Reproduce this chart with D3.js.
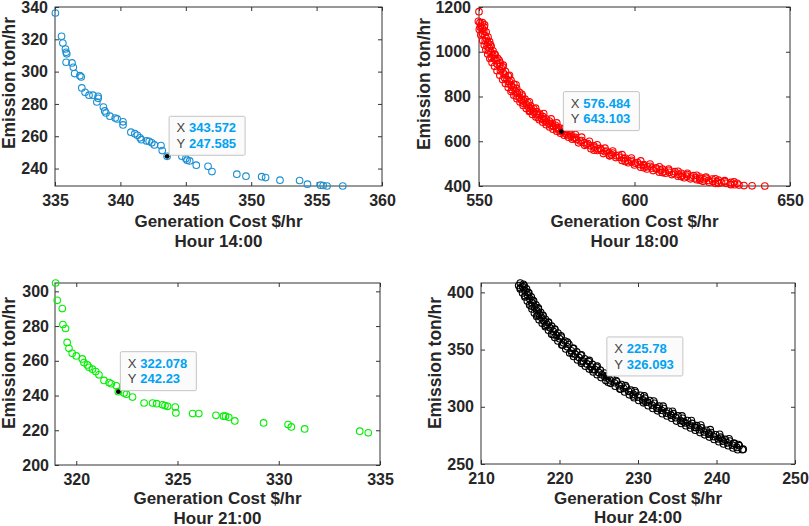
<!DOCTYPE html>
<html><head><meta charset="utf-8">
<script src="https://cdn.jsdelivr.net/npm/d3@7"></script>
<style>body{margin:0;background:#fff} svg{display:block} text{font-family:"Liberation Sans",Arial,sans-serif}</style>
</head><body><svg id="c" width="809" height="526"></svg>
<script>
// ---- Hour 14:00 ----
const cost14=[335.03,335.5,335.6,335.8,335.85,335.9,335.85,336.3,336.4,336.5,336.9,337.0,337.05,337.3,337.6,337.9,338.3,338.3,338.2,338.7,338.8,338.9,339.2,339.6,339.75,340.2,340.2,340.8,341.1,341.3,341.5,341.6,342.0,342.2,342.4,342.6,343.1,343.2,343.572,344.7,345.0,345.1,345.3,345.8,346.7,347.0,348.9,349.6,350.8,351.1,352.2,353.7,354.3,355.3,355.5,355.8,357.0];
const emis14=[336.3,321.9,317.7,314.0,312.0,311.0,305.8,305.4,302.7,298.8,297.5,296.7,289.9,287.2,285.4,285.4,284.7,283.5,281.2,278.1,275.7,274.4,272.4,271.3,270.7,268.9,267.0,262.5,261.6,260.6,259.0,257.9,257.1,256.9,255.9,254.6,254.2,251.1,247.585,247.6,246.2,245.2,244.7,242.1,241.4,238.1,236.5,235.3,235.0,234.4,232.8,232.6,230.3,229.7,229.5,229.2,229.2];
// ---- Hour 18:00 ----
const cost18=[550.0,549.8,550.3,550.6,550.4,551.1,551.5,551.2,551.9,552.3,552.0,552.8,552.6,553.3,553.0,553.9,554.4,554.0,555.0,555.6,556.5,555.8,556.6,557.2,556.9,557.8,558.4,558.2,559.0,559.8,559.5,560.4,561.0,560.6,561.7,562.3,562.0,563.0,563.6,564.5,564.2,565.3,566.0,566.8,566.4,567.6,568.4,569.3,569.0,570.2,571.0,571.6,572.5,573.2,574.0,575.0,575.6,576.484,577.6,578.4,579.6,580.5,581.4,582.5,583.8,584.6,585.8,587.0,588.2,589.4,590.5,591.8,592.6,594.0,595.2,596.5,597.8,599.0,600.3,601.5,602.8,604.2,605.6,607.0,608.4,609.8,611.2,612.6,614.0,615.4,616.8,618.2,619.6,621.0,622.4,623.8,625.2,626.6,628.0,629.4,630.8,632.2,633.6,635.2,637.8,641.9,
 551.8,553.6,555.0,557.8,559.8,561.9,563.8,566.2,568.2,570.8,573.2,575.0,577.6,579.0,581.0,583.0,585.5,588.0,590.5,593.0,596.0,599.0,602.0,605.0,608.0,611.0,614.0,617.0,620.0,623.0,626.0,629.0,632.0,587.0,592.0,597.0,603.0,609.0,615.0,621.0,627.0,631.0,
 551.1,551.7,552.3,552.9,553.4,553.9,554.5,555.2,556.0,556.8,557.6,558.5,559.4,560.3,561.2,562.1,563.0,563.9,564.8,565.7,566.6,567.6,568.6,569.6,570.6,571.6,572.6,573.6,574.6,575.6,576.6,577.6,578.6,579.6,581,583,585,587,589,591,593,595,597,599,601,603,605,607,609,611,613,615,617,619,621,623,625,627,629,631,633,
 550.1,550.6,551.2,551.7,552.2,552.8,553.5,554.2,555.0,555.8,556.7,557.6,558.5,559.4,560.3,561.2,562.2,563.2,564.2,565.2,566.2,567.2,568.3,569.4,570.5,571.6,572.7,573.8,575.0,576.2,577.4,578.8,580,582,584,586,588,590,592,594,596,598,600,602,604,606,608,610,612,614,616,618,620,622,624,626];
const emis18=[1179,1136,1130,1118,1110,1104,1092,1080,1072,1060,1049,1040,1026,1016,1005,996,984,974,968,960,962,946,934,925,915,906,896,884,876,866,856,850,840,830,824,814,802,796,786,780,770,764,752,744,736,730,722,716,706,702,694,686,680,672,666,657,650,643.103,636,628,622,614,608,601,594,586,580,573,566,560,553,548,540,536,528,522,515,508,502,496,492,486,480,476,470,466,461,457,452,448,444,440,436,433,428,425,421,418,415,412,409,406,404,402,401,400,
 1120,1032,990,940,895,852,810,776,748,724,700,682,660,645,630,618,600,584,569,556,540,525,512,498,486,476,466,457,448,440,432,424,418,560,536,510,482,460,442,426,412,406,
 1130,1110,1088,1066,1045,1025,1004,987,970,950,932,912,892,872,855,836,818,802,788,773,758,745,732,721,710,700,690,680,671,662,654,646,638,631,617,603,590,579,568,556,547,537,525,515,505,496,488,481,475,470,464,457,451,446,440,435,431,426,420,416,412,
 1100,1075,1050,1030,1010,990,970,952,935,915,895,876,858,840,822,806,790,775,760,746,733,720,708,696,685,674,664,654,645,636,627,618,609,593,582,567,559,545,535,527,514,504,494,484,476,469,462,457,451,444,437,432,428,421,417,412];
// ---- Hour 21:00 ----
const cost21=[318.98,319.06,319.31,319.34,319.47,319.55,319.64,319.8,320.0,320.3,320.38,320.55,320.63,320.8,320.96,321.12,321.37,321.62,321.73,321.98,322.078,322.36,322.48,322.78,323.35,323.77,323.97,324.26,324.38,324.51,324.89,324.92,325.75,326.05,326.9,327.27,327.37,327.53,327.83,329.25,330.46,330.62,331.28,334.0,334.42];
const emis21=[304.8,294.8,290.1,280.9,278.6,270.6,267.2,264.3,262.8,261.1,259.0,257.6,256.3,255.2,253.8,251.9,248.7,247.5,246.8,245.6,242.23,241.4,240.8,239.1,235.7,235.7,235.3,234.7,234.2,233.8,233.4,230.0,229.6,229.6,228.6,228.1,228.1,227.5,225.4,224.2,223.3,221.9,220.8,219.5,218.5];
// ---- Hour 24:00 ----
const cost24=[215.0,215.3,215.6,215.9,216.2,216.5,216.8,217.1,217.4,217.7,218.0,218.4,218.8,219.2,219.6,220.0,220.5,221.0,221.5,222.0,222.5,223.0,223.5,224.0,224.5,225.0,225.4,225.78,226.4,227.0,227.6,228.2,228.8,229.4,230.0,230.6,231.2,231.8,232.4,233.0,233.6,234.2,234.8,235.4,236.0,236.6,237.2,237.8,238.4,239.0,239.6,240.2,240.8,241.4,242.0,242.6,243.3,
 215.4,216.0,216.6,217.3,217.9,218.6,219.4,220.2,221.0,221.8,222.8,223.8,224.8,226.0,227.2,228.4,229.6,230.8,232.0,233.2,234.4,235.6,236.8,238.0,239.2,240.4,241.6,242.8,
 215.0,215.6,216.4,217.2,218.2,219.2,220.4,221.6,222.8,224.2,226.2,227.8,229.4,231.0,232.6,234.2,235.8,237.4,239.0,240.6,242.2,243.4,
 215.5,215.8,216.1,216.4,216.7,217.0,217.3,217.6,217.9,218.2,218.6,219.0,219.4,219.8,220.2,220.7,221.2,221.7,222.2,222.7,223.2,223.7,224.2,224.7,225.2,225.7,226.2,226.7,227.3,227.9,228.5,229.1,229.7,230.3,230.9,231.5,232.1,232.7,233.3,233.9,234.5,235.1,235.7,236.3,236.9,237.5,238.1,238.7,239.3,239.9,240.5,241.1,241.7,242.3,242.9,
 214.8,215.0,215.3,215.6,215.9,216.2,216.5,216.8,217.1,217.4,217.8,218.2,218.6,219.0,219.4,219.8,220.3,220.8,221.3,221.8,222.3,222.8,223.3,223.8,224.3,224.8,225.3,225.9,226.5,227.1,227.7,228.3,228.9,229.5,230.1,230.7,231.3,231.9,232.5,233.1,233.7,234.3,234.9,235.5,236.1,236.7,237.3,237.9,238.5,239.1,239.7,240.3,240.9,241.5,242.1,242.7];
const emis24=[408.2,405.0,401.5,398.0,394.5,391.0,387.5,384.0,381.0,378.0,375.0,372.0,369.0,366.0,362.5,359.5,356.0,352.5,349.0,346.0,343.0,340.0,337.5,335.0,332.5,330.0,328.0,326.093,323.5,321.0,318.5,316.0,313.5,311.0,308.5,306.0,304.0,301.5,299.0,297.0,294.5,292.5,290.5,288.0,286.0,284.0,282.0,280.0,278.0,276.0,274.0,272.0,270.0,268.5,266.5,264.5,262.5,
 407.0,400.0,393.0,386.5,380.0,374.0,368.0,362.0,356.5,351.0,345.5,340.5,335.5,327.0,323.0,318.5,314.0,309.5,305.0,300.5,296.0,292.0,288.0,284.0,280.0,276.0,272.0,267.0,
 404.0,397.0,388.0,380.0,371.0,363.0,354.0,346.5,339.5,332.5,321.5,315.5,309.5,304.0,298.5,293.0,287.0,282.0,277.0,272.5,268.0,263.0,
 406.0,403.0,399.5,396.0,392.5,389.0,385.5,382.5,379.5,376.5,373.5,370.5,367.5,364.5,361.0,357.5,354.5,351.0,348.0,345.0,342.0,339.5,337.0,334.5,332.0,329.5,327.0,324.5,322.0,319.5,317.0,314.5,312.5,310.0,307.5,305.5,303.0,300.5,298.5,296.0,294.0,292.0,290.0,288.0,285.5,283.5,281.5,279.5,277.5,275.5,273.5,271.5,270.0,268.0,266.0,
 406.0,403.0,399.5,396.0,392.5,389.0,385.5,382.0,379.0,376.0,373.0,370.0,367.0,363.5,360.5,357.5,354.0,350.5,347.0,344.0,341.0,338.0,335.5,333.0,330.5,328.0,325.5,323.0,320.5,318.0,315.5,313.0,310.5,308.0,305.5,303.5,301.0,298.5,296.5,294.0,292.0,290.0,287.5,285.5,283.5,281.5,279.5,277.5,275.5,273.5,271.5,269.5,267.5,266.0,264.0,262.5];

const xTicks14=[335,340,345,350,355,360], yTicks14=[240,260,280,300,320,340];
const xTicks18=[550,600,650], yTicks18=[400,600,800,1000,1200];
const xTicks21=[320,325,330,335], yTicks21=[200,220,240,260,280,300];
const xTicks24=[210,220,230,240,250], yTicks24=[250,300,350,400];
const hours=["Hour 14:00","Hour 18:00","Hour 21:00","Hour 24:00"];
const tipX=["343.572","576.484","322.078","225.78"];
const tipY=["247.585","643.103","242.23","326.093"];
const tipPts=[[343.572,247.585],[576.484,643.103],[322.078,242.23],[225.78,326.093]];
const xLabel="Generation Cost $/hr", yLabel="Emission ton/hr";

const panels=[
 {xs:cost14,ys:emis14,xd:[335,360],yd:[229.2,340],xt:xTicks14,yt:yTicks14,color:"#1b8fd2",L:55,R:382,T:7,B:186,ylx:15,yly:83,pad:7,gy:40.5,hy:60.5},
 {xs:cost18,ys:emis18,xd:[550,650],yd:[400,1200],xt:xTicks18,yt:yTicks18,color:"#ff0000",L:479,R:790,T:7,B:186,ylx:430,yly:84,pad:8,gy:40.5,hy:60.5},
 {xs:cost21,ys:emis21,xd:[318.95,335],yd:[200,304.8],xt:xTicks21,yt:yTicks21,color:"#00f000",L:55,R:380,T:283,B:465,ylx:15,yly:363,pad:6,gy:39,hy:58.5},
 {xs:cost24,ys:emis24,xd:[210,250],yd:[250,408.2],xt:xTicks24,yt:yTicks24,color:"#000000",L:481,R:795,T:283,B:464,ylx:441,yly:363,pad:7,gy:39.5,hy:59}
];

const svg=d3.select("#c");
const axisCol="#333";
panels.forEach((p,i)=>{
  const g=svg.append("g");
  const x=d3.scaleLinear().domain(p.xd).range([p.L,p.R]);
  const y=d3.scaleLinear().domain(p.yd).range([p.B,p.T]);
  const style=sel=>{sel.select(".domain").remove();sel.selectAll("line").attr("stroke",axisCol);
    sel.selectAll("text").attr("fill","#262626").attr("font-weight","bold").attr("font-size","16px").attr("font-family","'Liberation Sans',Arial,sans-serif");};
  g.append("g").attr("transform",`translate(0,${p.B})`).call(d3.axisBottom(x).tickValues(p.xt).tickSize(-4).tickPadding(9).tickFormat(d3.format("d"))).call(style);
  g.append("g").attr("transform",`translate(0,${p.T})`).call(d3.axisTop(x).tickValues(p.xt).tickSize(-4).tickFormat("")).call(style);
  g.append("g").attr("transform",`translate(${p.L},0)`).call(d3.axisLeft(y).tickValues(p.yt).tickSize(-4).tickPadding(p.pad).tickFormat(d3.format("d"))).call(style);
  g.append("g").attr("transform",`translate(${p.R},0)`).call(d3.axisRight(y).tickValues(p.yt).tickSize(-4).tickFormat("")).call(style);
  g.append("rect").attr("x",p.L).attr("y",p.T).attr("width",p.R-p.L).attr("height",p.B-p.T).attr("fill","none").attr("stroke",axisCol).attr("stroke-width",1);
  const pts=p.xs.map((v,k)=>[v,p.ys[k]]);
  g.append("g").selectAll("circle").data(pts).join("circle")
    .attr("cx",d=>x(d[0])).attr("cy",d=>y(d[1])).attr("r",3.3)
    .attr("fill","none").attr("stroke",p.color).attr("stroke-width",1.1);
  const tp=tipPts[i];
  const px=x(tp[0]), py=y(tp[1]);
  g.append("circle").attr("cx",px).attr("cy",py).attr("r",2.4).attr("fill","#000");
  const tw=76, th=39, tl=px+2, tt=py-1-th;
  g.append("rect").attr("x",tl).attr("y",tt).attr("width",tw).attr("height",th).attr("rx",1.5)
    .attr("fill","#fbfbfb").attr("stroke","#c4c4c4").attr("stroke-width",1);
  [["X",tipX[i],16],["Y",tipY[i],31.6]].forEach(r=>{
    g.append("text").attr("x",tl+7.5).attr("y",tt+r[2]).attr("font-size","13px").attr("fill","#444").text(r[0]);
    g.append("text").attr("x",tl+20).attr("y",tt+r[2]).attr("font-size","13px").attr("font-weight","bold").attr("fill","#00a2f2").text(r[1]);
  });
  const cx=(p.L+p.R)/2;
  g.append("text").attr("x",cx).attr("y",p.B+p.gy).attr("text-anchor","middle").attr("font-size","17px").attr("font-weight","bold").attr("fill","#262626").text(xLabel);
  g.append("text").attr("x",cx).attr("y",p.B+p.hy).attr("text-anchor","middle").attr("font-size","17px").attr("font-weight","bold").attr("fill","#262626").text(hours[i]);
  g.append("text").attr("transform",`translate(${p.ylx},${p.yly}) rotate(-90)`).attr("text-anchor","middle").attr("font-size","17.5px").attr("font-weight","bold").attr("fill","#262626").text(yLabel);
});
</script></body></html>
